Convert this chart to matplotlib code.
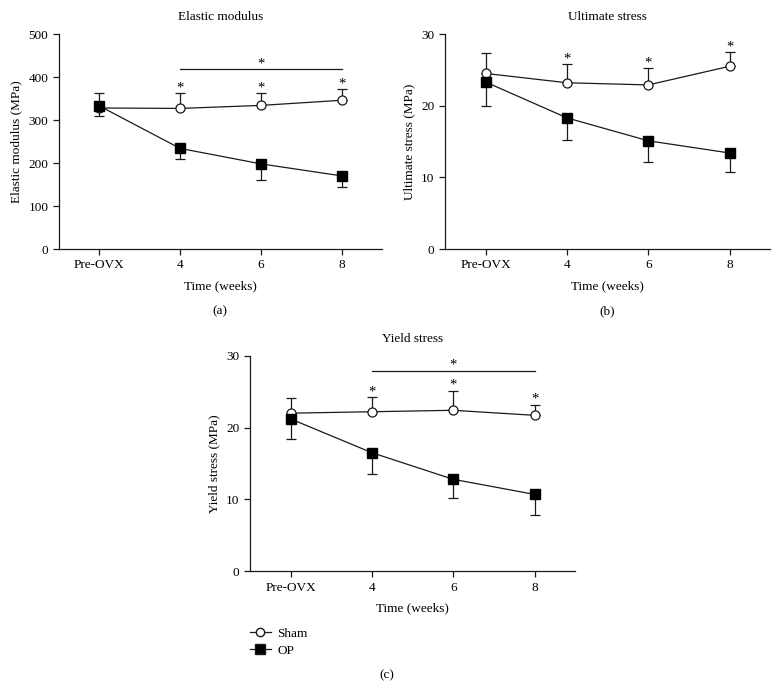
import numpy as np
from matplotlib import pyplot as plt
from matplotlib.lines import Line2D

plt.rcParams['font.family'] = ['Liberation Serif', 'DejaVu Serif']
plt.rcParams['font.size'] = 9.5

# Categorias do eixo x
categories = ['Pre-OVX', '4', '6', '8']

# Elastic modulus (MPa)
em_sham = [328, 327, 334, 346]
em_sham_err = [34, 35, 28, 25]
em_op = [333, 234, 198, 170]
em_op_err = [23, 24, 38, 26]

# Ultimate stress (MPa)
us_sham = [24.5, 23.2, 22.9, 25.5]
us_sham_err = [2.9, 2.6, 2.3, 2.0]
us_op = [23.3, 18.3, 15.1, 13.4]
us_op_err = [3.3, 3.1, 2.9, 2.7]

# Yield stress (MPa)
ys_sham = [22.0, 22.2, 22.4, 21.7]
ys_sham_err = [2.1, 2.0, 2.7, 1.5]
ys_op = [21.2, 16.5, 12.8, 10.7]
ys_op_err = [2.8, 2.9, 2.6, 2.8]

x = np.arange(len(categories))
ink = '#1a1a1a'


def draw_panel(ax, sham, sham_err, op, op_err, title, ylabel, ymax, step,
               star_offset, sigbar=None):
    zeros = [0] * len(x)
    ax.errorbar(x, sham, yerr=[zeros, sham_err], color=ink, lw=0.9,
                marker='o', ms=6.5, mfc='white', mec=ink, mew=0.9,
                capsize=3.5, elinewidth=0.9, capthick=0.9, zorder=3)
    ax.errorbar(x, op, yerr=[op_err, zeros], color=ink, lw=0.9,
                marker='s', ms=7, mfc='black', mec='black',
                capsize=3.5, elinewidth=0.9, capthick=0.9, zorder=4)
    # asteriscos acima das barras de erro do Sham
    for i in range(1, len(x)):
        ax.text(x[i], sham[i] + sham_err[i] + star_offset, '*',
                ha='center', va='center', fontsize=10.5)
    if sigbar is not None:
        ax.plot([x[1], x[-1]], [sigbar, sigbar], color=ink, lw=0.9)
        ax.text((x[1] + x[-1]) / 2, sigbar + star_offset * 1.1, '*',
                ha='center', va='center', fontsize=10.5)
    ax.set_xlim(-0.5, 3.5)
    ax.set_ylim(0, ymax)
    ax.set_yticks(np.arange(0, ymax + step / 2, step))
    ax.set_xticks(x)
    ax.set_xticklabels(categories)
    ax.spines['top'].set_visible(False)
    ax.spines['right'].set_visible(False)
    ax.tick_params(direction='out', length=4, width=0.9, color=ink)
    for s in ['left', 'bottom']:
        ax.spines[s].set_linewidth(0.9)
        ax.spines[s].set_color(ink)
    ax.set_title(title, pad=10, fontsize=9.5)
    ax.set_ylabel(ylabel)
    ax.set_xlabel('Time (weeks)', labelpad=6.5)


fig = plt.figure(figsize=(7.78, 6.89), dpi=100)
ax_a = fig.add_axes([0.0755, 0.6386, 0.416, 0.312])
ax_b = fig.add_axes([0.572, 0.6386, 0.418, 0.312])
ax_c = fig.add_axes([0.3213, 0.1708, 0.418, 0.313])

draw_panel(ax_a, em_sham, em_sham_err, em_op, em_op_err, 'Elastic modulus',
           'Elastic modulus (MPa)', 500, 100, 12, sigbar=418)
draw_panel(ax_b, us_sham, us_sham_err, us_op, us_op_err, 'Ultimate stress',
           'Ultimate stress (MPa)', 30, 10, 0.75)
draw_panel(ax_c, ys_sham, ys_sham_err, ys_op, ys_op_err, 'Yield stress',
           'Yield stress (MPa)', 30, 10, 0.8, sigbar=27.8)

fig.text(0.2828, 1 - 311 / 689, '(a)', ha='center', va='center')
fig.text(0.7808, 1 - 311 / 689, '(b)', ha='center', va='center')
fig.text(0.4974, 1 - 675 / 689, '(c)', ha='center', va='center')

# Legenda
handles = [
    Line2D([], [], color=ink, lw=0.9, marker='o', ms=6, mfc='white', mec=ink),
    Line2D([], [], color=ink, lw=0.9, marker='s', ms=6.5, mfc='black'),
]
fig.legend(handles, ['Sham', 'OP'], loc='upper left',
           bbox_to_anchor=(0.314, 1 - 622 / 689), frameon=False,
           handlelength=1.6, handletextpad=0.5, labelspacing=0.4,
           fontsize=9.5, borderaxespad=0)

plt.savefig('out.png', dpi=100)
